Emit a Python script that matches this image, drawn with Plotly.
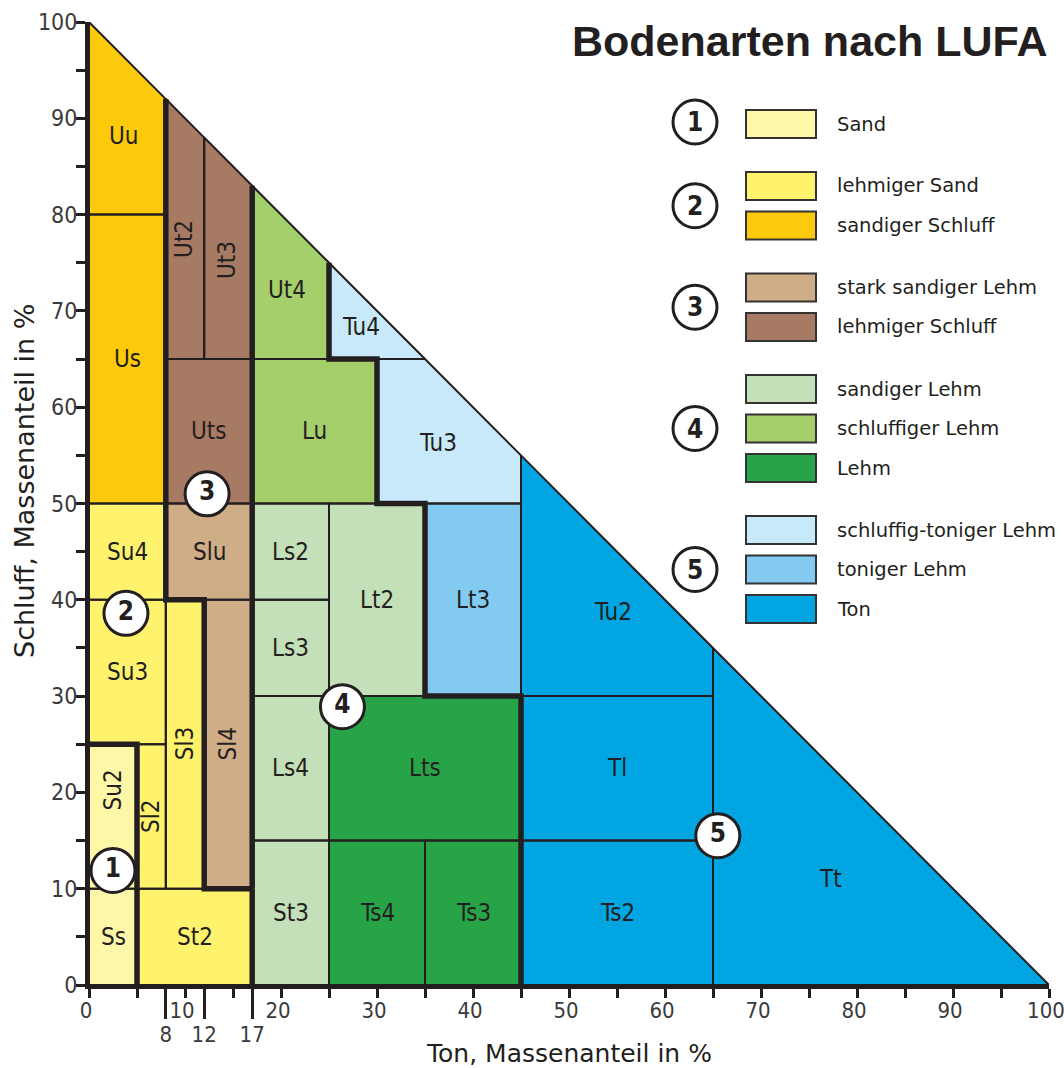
import plotly.graph_objects as go
from collections import defaultdict

# ---------------- data ----------------
# soil texture classes: name, clay (Ton) range, silt (Schluff) range, legend kind
class_names = ["Ss", "Su2", "Sl2", "Su3", "Sl3", "St2", "Sl4", "Su4", "Slu", "Us", "Uu",
               "Uts", "Ut2", "Ut3", "Ut4", "Lu", "Tu4", "Tu3", "Ls2", "Ls3", "Ls4", "St3",
               "Lt2", "Lt3", "Lts", "Ts4", "Ts3", "Tu2", "Tl", "Ts2", "Tt"]
ton_min = [0, 0, 5, 0, 8, 5, 12, 0, 8, 0, 0, 8, 8, 12, 17, 17, 25, 30, 17, 17, 17, 17,
           25, 35, 25, 25, 35, 45, 45, 45, 65]
ton_max = [5, 5, 8, 8, 12, 17, 17, 8, 17, 8, 8, 17, 12, 17, 25, 30, 35, 45, 25, 25, 25, 25,
           35, 45, 45, 35, 45, 65, 65, 65, 100]
schluff_min = [0, 10, 10, 25, 10, 0, 10, 40, 40, 50, 80, 50, 65, 65, 65, 50, 65, 50, 40, 30,
               15, 0, 30, 30, 15, 0, 0, 30, 15, 0, 0]
schluff_max = [10, 25, 25, 40, 40, 10, 40, 50, 50, 80, 100, 65, 100, 100, 100, 65, 100, 65,
               50, 40, 30, 15, 50, 50, 30, 15, 15, 100, 30, 15, 100]
class_kind = [0, 0, 1, 1, 1, 1, 3, 1, 3, 2, 2, 4, 4, 4, 6, 6, 8, 8, 5, 5, 5, 5,
              5, 9, 7, 7, 7, 10, 10, 10, 10]
rotated_labels = ["Su2", "Sl2", "Sl3", "Sl4", "Ut2", "Ut3"]
label_override = {"Su2": (2.5, 20.2), "Tu2": (54.6, 38.7), "Tt": (77.2, 11.0)}

kind_names = ["Sand", "lehmiger Sand", "sandiger Schluff", "stark sandiger Lehm",
              "lehmiger Schluff", "sandiger Lehm", "schluffiger Lehm", "Lehm",
              "schluffig-toniger Lehm", "toniger Lehm", "Ton"]
kind_group = [1, 2, 2, 3, 3, 4, 4, 4, 5, 5, 5]
kind_colors = ["#fff7a8", "#fff36e", "#fdca0b", "#cfad87", "#a77b63", "#c3e0b9",
               "#a5cf6a", "#28a448", "#c8e9f9", "#83caf0", "#00a5e1"]

group_ids = [1, 2, 3, 4, 5]
group_marker_ton = [2.5, 3.85, 12.3, 26.4, 65.5]
group_marker_schluff = [11.9, 38.6, 51.0, 28.9, 15.5]

x_tickvals = list(range(0, 101, 5))
x_ticktext = [str(v) if v % 10 == 0 else "" for v in x_tickvals]
x_special_ticks = [8, 12, 17]
y_tickvals = list(range(0, 101, 5))
y_ticktext = [str(v) if v % 10 == 0 else "" for v in y_tickvals]

# ---------------- style ----------------
INK = "#231f20"
TICK_INK = "#3a3a3a"
NARROW = "Liberation Sans Narrow, DejaVu Sans Condensed, Roboto Condensed, Liberation Sans, Arial"
SANS = "Liberation Sans, Arial, Helvetica, sans-serif"
WIDE = "DejaVu Sans, Verdana, sans-serif"
PLOT_L, PLOT_T, PLOT_R, PLOT_B = 89, 22, 1049, 985   # plot area in page pixels
W, H = 1064, 1068
L, T = PLOT_L, PLOT_T
R, B = W - PLOT_R, H - PLOT_B
PW, PH = PLOT_R - PLOT_L, PLOT_B - PLOT_T


def X(px):
    return (px - PLOT_L) / PW


def Y(py):
    return (PLOT_B - py) / PH


# ---------------- geometry helpers ----------------
def clip_rect(x0, x1, y0, y1):
    pts = [(x0, y0), (x1, y0), (x1, y1), (x0, y1)]
    out = []
    for k in range(len(pts)):
        p, q = pts[k], pts[(k + 1) % len(pts)]
        fp, fq = p[0] + p[1] - 100, q[0] + q[1] - 100
        if fp <= 0:
            out.append(p)
        if (fp < 0 < fq) or (fq < 0 < fp):
            t = fp / (fp - fq)
            out.append((p[0] + t * (q[0] - p[0]), p[1] + t * (q[1] - p[1])))
    return out


def centroid(poly):
    a = cx = cy = 0.0
    for k in range(len(poly)):
        x0, y0 = poly[k]
        x1, y1 = poly[(k + 1) % len(poly)]
        c = x0 * y1 - x1 * y0
        a += c
        cx += (x0 + x1) * c
        cy += (y0 + y1) * c
    a *= 0.5
    return cx / (6 * a), cy / (6 * a)


def region_at(x, y):
    if x <= 0 or y <= 0 or x + y >= 100:
        return None
    for k in range(len(class_names)):
        if ton_min[k] < x < ton_max[k] and schluff_min[k] < y < schluff_max[k]:
            return k
    return None


def group_of(k):
    return kind_group[class_kind[k]]


polys = [clip_rect(ton_min[k], ton_max[k], schluff_min[k], schluff_max[k])
         for k in range(len(class_names))]

# thick boundaries between main groups
edges = set()
for i in range(100):
    for j in range(1, 100):
        a, b = region_at(i + 0.5, j - 0.01), region_at(i + 0.5, j + 0.01)
        if a is not None and b is not None and group_of(a) != group_of(b):
            edges.add(((i, j), (i + 1, j)))
for i in range(1, 100):
    for j in range(100):
        a, b = region_at(i - 0.01, j + 0.5), region_at(i + 0.01, j + 0.5)
        if a is not None and b is not None and group_of(a) != group_of(b):
            edges.add(((i, j), (i, j + 1)))

adj = defaultdict(set)
for p, q in edges:
    adj[p].add(q)
    adj[q].add(p)
used = set()


def ekey(p, q):
    return (p, q) if p < q else (q, p)


paths = []
starts = [n for n in adj if len(adj[n]) != 2] + list(adj.keys())
for s in starts:
    for nb in sorted(adj[s]):
        if ekey(s, nb) in used:
            continue
        path = [s, nb]
        used.add(ekey(s, nb))
        cur = nb
        while len(adj[cur]) == 2:
            nxt = [n for n in adj[cur] if ekey(cur, n) not in used]
            if not nxt:
                break
            used.add(ekey(cur, nxt[0]))
            path.append(nxt[0])
            cur = nxt[0]
        simp = [path[0]]
        for k in range(1, len(path) - 1):
            p0, p1, p2 = simp[-1], path[k], path[k + 1]
            if (p1[0] - p0[0]) * (p2[1] - p1[1]) - (p1[1] - p0[1]) * (p2[0] - p1[0]) != 0:
                simp.append(p1)
        simp.append(path[-1])
        paths.append(simp)

# ---------------- figure ----------------
fig = go.Figure()

for k, poly in enumerate(polys):
    fig.add_trace(go.Scatter(
        x=[p[0] for p in poly] + [poly[0][0]],
        y=[p[1] for p in poly] + [poly[0][1]],
        mode="lines", fill="toself", fillcolor=kind_colors[class_kind[k]],
        line=dict(width=0, color=kind_colors[class_kind[k]]),
        hoverinfo="text", text=class_names[k], showlegend=False))

tx, ty = [], []
for poly in polys:
    for p in poly + [poly[0]]:
        tx.append(p[0])
        ty.append(p[1])
    tx.append(None)
    ty.append(None)
fig.add_trace(go.Scatter(x=tx, y=ty, mode="lines", line=dict(width=2, color=INK),
                         hoverinfo="skip", showlegend=False))

kx, ky = [], []
for path in paths:
    kx += [p[0] for p in path] + [None]
    ky += [p[1] for p in path] + [None]
fig.add_trace(go.Scatter(x=kx, y=ky, mode="lines", line=dict(width=5.5, color=INK),
                         hoverinfo="skip", showlegend=False))

fig.add_trace(go.Scatter(
    x=group_marker_ton, y=group_marker_schluff, mode="markers+text",
    text=[str(g) for g in group_ids], textposition="middle center",
    textfont=dict(family=NARROW, size=26, color=INK, weight="bold"),
    marker=dict(size=44, color="white", line=dict(width=3, color=INK)),
    hoverinfo="skip", showlegend=False, cliponaxis=False))

# dummy trace for the secondary x axis (special ticks 8, 12, 17)
fig.add_trace(go.Scatter(x=[None], y=[None], xaxis="x2", showlegend=False, hoverinfo="skip"))

annotations = []
for k, poly in enumerate(polys):
    name = class_names[k]
    cx, cy = label_override.get(name, centroid(poly))
    annotations.append(dict(
        x=cx, y=cy, xref="x", yref="y", text=name, showarrow=False,
        textangle=-90 if name in rotated_labels else 0,
        font=dict(family=NARROW, size=24, color=INK)))

# title
annotations.append(dict(x=X(1049), y=Y(41), xref="paper", yref="paper",
                        xanchor="right", yanchor="middle", showarrow=False,
                        text="Bodenarten nach LUFA",
                        font=dict(family=SANS, size=43, color=INK, weight="bold")))
# axis titles
annotations.append(dict(x=0.5, y=Y(1053), xref="paper", yref="paper",
                        xanchor="center", yanchor="middle", showarrow=False,
                        text="Ton, Massenanteil in %",
                        font=dict(family=WIDE, size=25, color=INK)))
annotations.append(dict(x=X(24), y=Y(481), xref="paper", yref="paper",
                        xanchor="center", yanchor="middle", showarrow=False, textangle=-90,
                        text="Schluff, Massenanteil in %",
                        font=dict(family=WIDE, size=27, color=INK)))

# custom grouped legend
shapes = []
grp_rows = defaultdict(list)
y_cur = 124
prev_grp = None
for k, nm in enumerate(kind_names):
    g = kind_group[k]
    if prev_grp is not None:
        y_cur += 39.5 if g == prev_grp else 62
    prev_grp = g
    grp_rows[g].append(y_cur)
    shapes.append(dict(type="rect", xref="paper", yref="paper",
                       x0=X(746), x1=X(816), y0=Y(y_cur + 14), y1=Y(y_cur - 14),
                       fillcolor=kind_colors[k], line=dict(color="#333333", width=2)))
    annotations.append(dict(x=X(835), y=Y(y_cur), xref="paper", yref="paper",
                            xanchor="left", yanchor="middle", showarrow=False, text=nm,
                            font=dict(family=WIDE, size=19.5, color=INK)))
for g in group_ids:
    cy = sum(grp_rows[g]) / len(grp_rows[g])
    if g == 1:
        cy -= 2
    r = 22
    shapes.append(dict(type="circle", xref="paper", yref="paper",
                       x0=X(695 - r), x1=X(695 + r), y0=Y(cy + r), y1=Y(cy - r),
                       fillcolor="white", line=dict(color=INK, width=3)))
    annotations.append(dict(x=X(695), y=Y(cy), xref="paper", yref="paper",
                            xanchor="center", yanchor="middle", showarrow=False, text=str(g),
                            font=dict(family=NARROW, size=26, color=INK, weight="bold")))

fig.update_layout(
    width=W, height=H, margin=dict(l=L, r=R, t=T, b=B, pad=0, autoexpand=False),
    plot_bgcolor="white", paper_bgcolor="white",
    showlegend=False, annotations=annotations, shapes=shapes,
    xaxis=dict(range=[0, 100], tickvals=x_tickvals, ticktext=x_ticktext,
               ticks="outside", ticklen=9, tickwidth=2.5, tickcolor=INK,
               ticklabelstandoff=-6, ticklabelshift=-3, ticklabeloverflow="allow",
               automargin=False,
               showline=True, linewidth=4, linecolor=INK, showgrid=False, zeroline=False,
               tickfont=dict(family=NARROW, size=22, color=TICK_INK), fixedrange=True),
    xaxis2=dict(range=[0, 100], overlaying="x", anchor="y", side="bottom",
                tickvals=x_special_ticks, ticktext=[str(v) for v in x_special_ticks],
                ticks="outside", ticklen=33, tickwidth=2.5, tickcolor=INK,
                ticklabelstandoff=-3, automargin=False,
                showline=False, showgrid=False, zeroline=False,
                tickfont=dict(family=NARROW, size=22, color=TICK_INK), fixedrange=True),
    yaxis=dict(range=[0, 100], tickvals=y_tickvals, ticktext=y_ticktext,
               ticks="outside", ticklen=9, tickwidth=2.5, tickcolor=INK,
               ticklabelstandoff=-6, ticklabeloverflow="allow", automargin=False,
               showline=True, linewidth=4, linecolor=INK, showgrid=False, zeroline=False,
               tickfont=dict(family=NARROW, size=23, color=TICK_INK), fixedrange=True),
)

# remove the browser's default page margin so the figure fills the window exactly
fig.write_html("out.html", config={"displayModeBar": False},
               post_script="document.body.style.margin='0';document.body.style.overflow='hidden';")
